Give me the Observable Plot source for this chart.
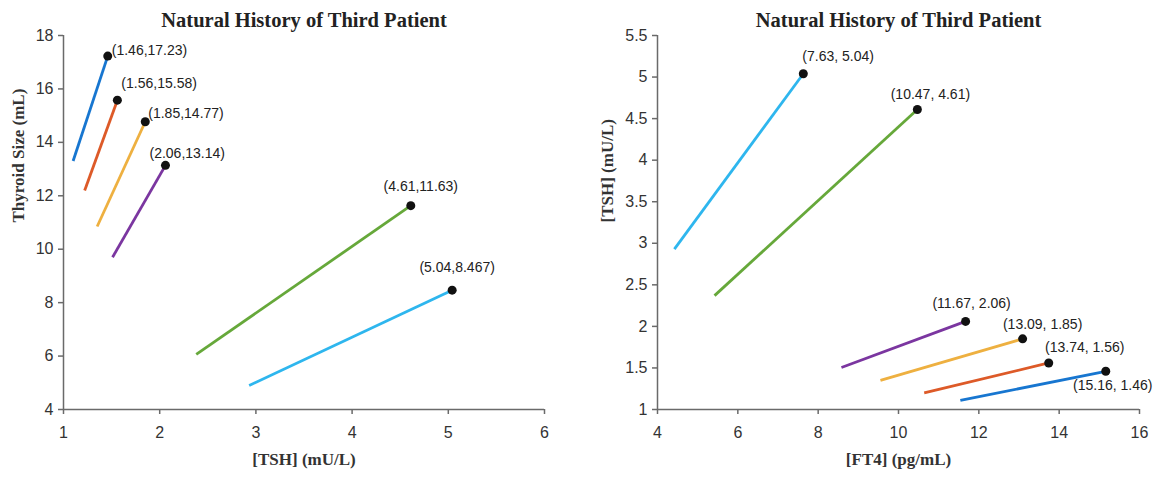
<!DOCTYPE html>
<html><head><meta charset="utf-8">
<script src="https://cdn.jsdelivr.net/npm/d3@7"></script>
<script src="https://cdn.jsdelivr.net/npm/@observablehq/plot@0.6"></script>
<style>
body{margin:0;background:#fff;}
#wrap{position:relative;width:1159px;height:485px;overflow:hidden;background:#fff;}
#left{position:absolute;left:0;top:0;}
#right{position:absolute;left:580px;top:0;}
</style></head><body><div id="wrap"><div id="left"></div><div id="right"></div></div>
<script>
// ---- data ----
const seriesColors = ["#1776d0","#dd5a28","#eeb040","#7b36a0","#66a83a","#2eb6ee"];
// Left chart: [TSH] vs Thyroid size
const tshStart  = [1.10, 1.22, 1.35, 1.51, 2.38, 2.93];
const tshEnd    = [1.46, 1.56, 1.85, 2.06, 4.61, 5.04];
const sizeStart = [13.3, 12.2, 10.85, 9.7, 6.06, 4.9];
const sizeEnd   = [17.23, 15.58, 14.77, 13.14, 11.63, 8.467];
const leftLabels = ["(1.46,17.23)","(1.56,15.58)","(1.85,14.77)","(2.06,13.14)","(4.61,11.63)","(5.04,8.467)"];
// Right chart: [FT4] vs [TSH]
const ft4Start  = [11.54, 10.64, 9.55, 8.58, 5.42, 4.42];
const ft4End    = [15.16, 13.74, 13.09, 11.67, 10.47, 7.63];
const rTshStart = [1.11, 1.20, 1.35, 1.505, 2.37, 2.93];
const rTshEnd   = [1.46, 1.56, 1.85, 2.06, 4.61, 5.04];
const rightLabels = ["(15.16, 1.46)","(13.74, 1.56)","(13.09, 1.85)","(11.67, 2.06)","(10.47, 4.61)","(7.63, 5.04)"];
// ticks
const leftXTicks = [1,2,3,4,5,6];
const leftYTicks = [4,6,8,10,12,14,16,18];
const rightXTicks = [4,6,8,10,12,14,16];
const rightYTicks = [1,1.5,2,2.5,3,3.5,4,4.5,5,5.5];
const titleText = "Natural History of Third Patient";

// ---- layout (label placement offsets, px) ----
const leftOffsets = [
  {dx:4, dy:-6, a:"start"}, {dx:4, dy:-17, a:"start"}, {dx:3, dy:-8, a:"start"},
  {dx:-16, dy:-12, a:"start"}, {dx:10, dy:-19, a:"middle"}, {dx:5, dy:-23, a:"middle"}];
const rightOffsets = [
  {dx:7, dy:14, a:"middle"}, {dx:36, dy:-15, a:"middle"}, {dx:20, dy:-14, a:"middle"},
  {dx:6, dy:-18, a:"middle"}, {dx:13, dy:-15, a:"middle"}, {dx:-1, dy:-17, a:"start"}];

const tickFont = "Liberation Sans, Arial, sans-serif";
const serif = "Liberation Serif, Times New Roman, serif";
const axisGray = "#6a6a6a";

function buildChart(opts) {
  const rows = opts.x1.map((v, i) => ({x1: v, y1: opts.y1[i], x2: opts.x2[i], y2: opts.y2[i], c: seriesColors[i], label: opts.labels[i], i}));
  const labelMarks = rows.map((r, i) => Plot.text([r], {
    x: "x2", y: "y2", text: "label", dx: opts.offsets[i].dx, dy: opts.offsets[i].dy,
    textAnchor: opts.offsets[i].a, fontSize: 14, fontFamily: tickFont, fill: "#222"
  }));
  return Plot.plot({
    width: opts.width, height: 485,
    marginTop: 35, marginBottom: 76, marginLeft: opts.ml, marginRight: opts.mr,
    style: {background: "#fff", overflow: "visible"},
    x: {domain: opts.xd, label: null},
    y: {domain: opts.yd, label: null},
    marks: [
      Plot.axisX({ticks: opts.xt, tickSize: 5, tickPadding: 12, tickFormat: d => String(d), fontSize: 16, fontFamily: tickFont, color: "#333", stroke: axisGray, strokeWidth: 1.5, label: null}),
      Plot.axisY({ticks: opts.yt, tickSize: 5, tickPadding: 5, tickFormat: d => String(d), fontSize: 16, fontFamily: tickFont, color: "#333", stroke: axisGray, strokeWidth: 1.5, label: null}),
      Plot.ruleX([opts.xd[0]], {stroke: axisGray, strokeWidth: 1.5}),
      Plot.ruleY([opts.yd[0]], {stroke: axisGray, strokeWidth: 1.5}),
      Plot.link(rows, {x1: "x1", y1: "y1", x2: "x2", y2: "y2", stroke: "c", strokeWidth: 2.8}),
      Plot.dot(rows, {x: "x2", y: "y2", r: 4.5, fill: "#111", stroke: "none"}),
      ...labelMarks,
      Plot.text([titleText], {frameAnchor: "top", lineAnchor: "middle", dy: -15, fontSize: 20.5, fontWeight: "bold", fontFamily: serif, fill: "#222"}),
      Plot.text([opts.xlabel], {frameAnchor: "bottom", lineAnchor: "middle", dy: 50, fontSize: 17, fontWeight: "bold", fontFamily: serif, fill: "#333"}),
      Plot.text([opts.ylabel], {frameAnchor: "left", lineAnchor: "middle", rotate: -90, dx: opts.ylabelDx, fontSize: 17, fontWeight: "bold", fontFamily: serif, fill: "#333"})
    ]
  });
}

document.getElementById("left").appendChild(buildChart({
  width: 580, ml: 63, mr: 36, xd: [1, 6], yd: [4, 18], xt: leftXTicks, yt: leftYTicks,
  x1: tshStart, y1: sizeStart, x2: tshEnd, y2: sizeEnd, labels: leftLabels, offsets: leftOffsets,
  xlabel: "[TSH] (mU/L)", ylabel: "Thyroid Size (mL)", ylabelDx: -45
}));
document.getElementById("right").appendChild(buildChart({
  width: 579, ml: 77, mr: 20, xd: [4, 16], yd: [1, 5.5], xt: rightXTicks, yt: rightYTicks,
  x1: ft4Start, y1: rTshStart, x2: ft4End, y2: rTshEnd, labels: rightLabels, offsets: rightOffsets,
  xlabel: "[FT4] (pg/mL)", ylabel: "[TSH] (mU/L)", ylabelDx: -50
}));
</script></body></html>
